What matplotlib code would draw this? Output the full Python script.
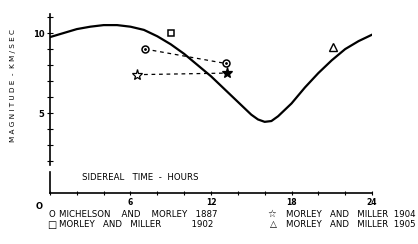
import matplotlib
matplotlib.use("Agg")
import matplotlib.pyplot as plt

# curve (sidereal hour -> km/sec)
curve_h = [0, 1, 2, 3, 4, 5, 6, 7, 8, 9, 10, 11, 12, 13, 14, 15, 15.5, 16, 16.5, 17, 18, 19, 20, 21, 22, 23, 24]
curve_v = [9.75, 10.0, 10.25, 10.4, 10.5, 10.5, 10.4, 10.2, 9.8, 9.3, 8.7, 8.0, 7.3, 6.5, 5.7, 4.9, 4.6,
           4.45, 4.5, 4.8, 5.6, 6.6, 7.5, 8.3, 9.0, 9.5, 9.9]

mm1887_h = [7.1, 13.1]
mm1887_v = [9.0, 8.1]
mm1902_h = [9.0]
mm1902_v = [10.0]
mm1904_h = [6.45, 13.2]
mm1904_v = [7.4, 7.5]
mm1905_h = [21.1]
mm1905_v = [9.1]

xticks = [0, 6, 12, 18, 24]
yticks = [5, 10]

plt.rcParams['font.family'] = 'DejaVu Sans'
fig = plt.figure(figsize=(4.18, 2.44), dpi=100)
ax = fig.add_axes([0.1196, 0.209, 0.7704, 0.734])

ax.plot(curve_h, curve_v, c='k', lw=1.6)
ax.plot(mm1887_h, mm1887_v, c='k', ls=(0, (3, 3)), lw=0.9)
ax.plot(mm1904_h, mm1904_v, c='k', ls=(0, (3, 3)), lw=0.9)
ax.plot(mm1887_h, mm1887_v, ls='none', marker='o', ms=5, mfc='white', mec='k', mew=1.1)
ax.plot(mm1887_h, mm1887_v, ls='none', marker='.', ms=2, c='k')
ax.plot(mm1902_h, mm1902_v, ls='none', marker='s', ms=4.5, mfc='white', mec='k', mew=1.1)
ax.plot(mm1904_h[:1], mm1904_v[:1], ls='none', marker='*', ms=8, mfc='white', mec='k', mew=0.9)
ax.plot(mm1904_h[1:], mm1904_v[1:], ls='none', marker='*', ms=8, mfc='k', mec='k', mew=0.9)
ax.plot(mm1905_h, mm1905_v, ls='none', marker='^', ms=5.5, mfc='white', mec='k', mew=1.0)

ax.set_xlim(0, 24)
ax.set_ylim(0, 11.2)
for s in ['top', 'right']:
    ax.spines[s].set_visible(False)
ax.spines['left'].set_bounds(1.75, 11.2)
ax.plot([0, 0], [0, 1.3], c='k', lw=1.2, clip_on=False)
ax.spines['left'].set_linewidth(1.2)
ax.spines['bottom'].set_linewidth(1.2)

ax.set_xticks(xticks)
ax.set_xticks(range(0, 25, 2), minor=True)
ax.set_xticklabels(['', '6', '12', '18', '24'], fontsize=5.5, fontweight='bold')
ax.set_yticks(yticks)
ax.set_yticks(range(2, 12), minor=True)
ax.set_yticklabels(['5', '10'], fontsize=6, fontweight='bold')
ax.tick_params(which='both', direction='inout', length=3, width=0.8, pad=2)
ax.tick_params(axis='y', which='both', direction='inout', length=4)
ax.text(-0.8, -0.55, 'O', fontsize=6, fontweight='bold', ha='center', va='top')

ax.set_ylabel('M A G N I T U D E  -  K M / S E C', fontsize=5.2)
ax.yaxis.set_label_coords(-0.105, 0.6)
ax.text(2.4, 0.95, 'SIDEREAL   TIME  -  HOURS', fontsize=6.2, va='center')

# legend below the axes
fs = 6.2
fig.text(0.115, 0.122, 'O', fontsize=fs, va='center')
fig.text(0.14, 0.122, 'MICHELSON    AND    MORLEY   1887', fontsize=fs, va='center')
fig.text(0.112, 0.078, '\u25a1', fontsize=7, va='center')
fig.text(0.14, 0.078, 'MORLEY   AND   MILLER           1902', fontsize=fs, va='center')
fig.text(0.64, 0.122, '\u2606', fontsize=7, va='center')
fig.text(0.685, 0.122, 'MORLEY   AND   MILLER  1904', fontsize=fs, va='center')
fig.text(0.645, 0.078, '\u25b3', fontsize=6.5, va='center')
fig.text(0.685, 0.078, 'MORLEY   AND   MILLER  1905', fontsize=fs, va='center')

fig.savefig('out.png', dpi=100)
